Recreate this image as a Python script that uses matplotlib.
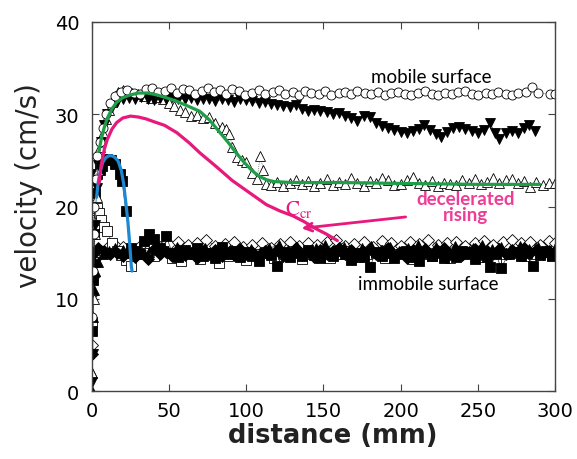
import numpy as np
import matplotlib as mpl
mpl.use('agg')
import matplotlib.pyplot as plt

# measured series, (distance mm, velocity cm/s)
mobile = [(0, 8), (0.5, 13), (1, 17), (1.5, 20), (2.5, 23), (3.5, 25.5), (5, 27), (7, 28.5), (9, 30),
          (12, 31.2), (15, 32), (19, 32.4), (23, 32.6), (27, 32.3), (31, 32.2), (35, 32.7), (39, 32.8),
          (43, 32.4), (47, 32.5), (51, 32.8), (55, 32.3), (59, 32.7), (63, 32.6), (67, 32.2), (71, 32.5),
          (75, 32.8), (79, 32.4), (83, 32.6), (87, 32.2), (91, 32.7), (95, 32.5), (99, 32.1), (104, 32.3),
          (108, 32.6), (112, 32.2), (117, 32.4), (121, 32.6), (125, 32.2), (130, 32.4), (134, 32.1),
          (138, 32.5), (142, 32.3), (147, 32.2), (151, 32.5), (155, 32.1), (160, 32.3), (164, 32.4),
          (168, 32.2), (172, 32.5), (177, 32.3), (181, 32.2), (185, 32.4), (190, 32.1), (194, 32.3),
          (198, 32.4), (203, 32.2), (207, 32.1), (211, 32.3), (216, 32.5), (220, 32.2), (224, 32.1),
          (229, 32.3), (233, 32.2), (237, 32.4), (242, 32.5), (246, 32.2), (250, 32.1), (255, 32.3),
          (259, 32.2), (263, 32.4), (268, 32.2), (272, 32.1), (276, 32.3), (281, 32.4), (285, 32.9),
          (289, 32.3), (297, 32.2), (300, 32.2)]

tri_down = [(0, 1), (0.5, 4), (1, 12), (2, 18), (3, 22), (4, 24.5), (6, 27), (8, 28.8), (10, 30), (13, 30.8),
            (16, 31.3), (20, 31.7), (24, 31.8), (28, 31.6), (32, 31.9), (36, 31.7), (40, 31.5), (44, 31.8),
            (48, 31.6), (52, 31.9), (56, 31.7), (60, 31.6), (64, 31.8), (68, 31.5), (72, 31.7), (76, 31.6),
            (80, 31.4), (84, 31.6), (88, 31.5), (92, 31.3), (96, 31.6), (100, 31.5), (104, 31.4), (108, 31.2),
            (112, 31.3), (116, 31.1), (120, 31.0), (124, 30.9), (128, 30.8), (132, 31.0), (136, 30.6),
            (140, 30.3), (144, 30.5), (148, 30.4), (152, 30.2), (156, 30.0), (160, 30.1), (164, 29.8),
            (168, 29.6), (172, 29.3), (176, 29.8), (180, 29.7), (184, 29.0), (188, 28.7), (192, 28.5),
            (196, 28.3), (200, 28.1), (204, 28.0), (208, 28.2), (212, 28.4), (215, 28.8), (219, 28.3),
            (223, 27.9), (226, 27.5), (230, 28.1), (234, 28.5), (238, 28.6), (242, 28.4), (246, 28.2),
            (250, 28.0), (254, 28.3), (258, 29.0), (261, 28.0), (264, 27.3), (268, 28.0), (272, 28.2),
            (276, 28.0), (280, 28.5), (283, 28.8), (287, 28.2)]

tri_up = [(0, 2), (1, 10), (2, 17), (3, 21), (4, 24), (5, 26.5), (7, 28), (9, 29.5), (11, 30.5), (13, 31.3),
          (15, 32), (17, 32.4), (20, 32.6), (23, 32.5), (26, 32.3), (30, 32.2), (34, 32.0), (38, 31.8),
          (42, 31.9), (46, 31.6), (50, 31.2), (53, 30.9), (57, 30.5), (60, 30.2), (64, 29.8), (68, 29.9),
          (72, 29.6), (76, 29.7), (80, 29.0), (84, 28.6), (87, 28.4), (89, 27.9), (91, 26.5), (94, 25.4),
          (97, 25.0), (100, 24.8), (104, 23.6), (107, 23.0), (109, 25.5), (111, 24.0), (113, 22.4),
          (116, 22.3), (120, 22.7), (124, 22.2), (128, 22.6), (132, 22.9), (136, 22.4), (140, 22.8),
          (144, 22.2), (148, 22.5), (152, 23.0), (156, 22.3), (160, 22.7), (164, 22.4), (168, 23.1),
          (172, 22.5), (176, 22.2), (180, 22.8), (184, 22.6), (188, 23.1), (192, 22.9), (196, 22.3),
          (200, 22.4), (204, 22.9), (208, 23.2), (212, 22.6), (216, 22.3), (220, 22.8), (224, 22.2),
          (228, 22.5), (232, 22.4), (236, 22.3), (240, 22.9), (244, 22.6), (248, 23.0), (252, 22.4),
          (256, 22.7), (260, 23.1), (264, 22.5), (268, 22.9), (272, 23.0), (276, 22.6), (280, 22.8),
          (284, 22.1), (288, 22.7), (292, 22.3), (296, 22.5), (300, 22.6)]

sq_filled = [(0, 6.5), (0.5, 12), (1, 17), (2, 21.5), (3.2, 23.5), (5, 24), (6.5, 24.4), (8, 25), (10, 25.1),
             (12.5, 25), (15, 24.6), (18, 23.5), (19.5, 22.8), (22, 19.5), (25, 15.5), (28, 15.2), (31, 14.8),
             (34, 16.3), (37, 17.0), (40, 16.5), (44, 15.5), (48, 16.8), (52, 15.0), (56, 14.5), (60, 15.3),
             (64, 14.8), (68, 15.5), (72, 14.6), (76, 15.0), (80, 14.4), (84, 15.6), (88, 14.8), (92, 15.2),
             (96, 14.5), (100, 15.1), (104, 14.6), (108, 14.1), (112, 15.0), (116, 14.7), (120, 13.6),
             (124, 15.1), (128, 14.5), (132, 15.0), (136, 14.6), (140, 15.3), (144, 14.7), (148, 14.4),
             (152, 15.0), (156, 14.6), (160, 15.2), (164, 14.8), (168, 14.2), (172, 15.0), (176, 14.5),
             (180, 13.4), (184, 15.1), (188, 14.6), (192, 15.0), (196, 14.4), (200, 14.9), (204, 15.2),
             (208, 14.5), (212, 14.1), (216, 15.0), (220, 14.6), (224, 15.1), (228, 14.4), (232, 14.9),
             (236, 14.5), (240, 15.2), (244, 14.8), (248, 14.3), (252, 15.0), (256, 14.5), (258, 13.4),
             (262, 14.8), (265, 13.3), (270, 14.9), (274, 15.1), (278, 14.6), (282, 15.0), (286, 13.5),
             (290, 14.7), (294, 15.2), (298, 14.6)]

sq_open = [(0, 7.5), (1, 14), (2, 18.5), (3, 19.8), (4.5, 19.3), (6, 18.5), (8, 17.8), (10, 17.3), (13, 16),
           (16, 15.2), (19, 14.7), (22, 14.2), (25, 13.6), (29, 14.8), (34, 15.0), (40, 14.6), (46, 15.2),
           (52, 14.4), (58, 14.1), (64, 15.0), (70, 14.3), (76, 14.8), (82, 13.9), (88, 14.6), (94, 15.0),
           (100, 14.2), (106, 14.8), (112, 15.1), (118, 14.4), (124, 14.9), (130, 15.2), (136, 14.3),
           (142, 14.9), (148, 15.0), (154, 14.4), (160, 14.8), (166, 15.2), (172, 14.5), (178, 14.9),
           (184, 15.0), (190, 14.4), (196, 14.8), (202, 15.1), (208, 14.3), (214, 14.9), (220, 14.6),
           (226, 15.0), (232, 14.4), (238, 14.8), (244, 15.1), (250, 14.5), (256, 14.9), (262, 14.3),
           (268, 14.9), (274, 15.0), (280, 14.6), (286, 14.9), (292, 15.1), (298, 14.7)]

dia_open = [(0, 5), (0, 10.5), (1, 12.5), (3, 14.5), (6, 15.2), (10, 15.5), (15, 15.8), (20, 15.6), (26, 15.2),
            (32, 15.8), (38, 16.0), (44, 15.6), (50, 15.9), (56, 16.2), (62, 15.8), (68, 16.0), (74, 16.4),
            (80, 15.7), (86, 15.9), (92, 16.1), (98, 15.6), (104, 15.8), (110, 16.0), (116, 15.5), (122, 15.9),
            (128, 16.2), (134, 15.7), (140, 16.0), (146, 15.8), (152, 16.2), (158, 16.4), (164, 15.7),
            (170, 15.9), (176, 16.1), (182, 15.6), (188, 16.3), (194, 16.0), (200, 15.7), (206, 16.2),
            (212, 15.9), (218, 16.4), (224, 15.8), (230, 16.0), (236, 16.2), (242, 15.7), (248, 16.0),
            (254, 16.3), (260, 15.8), (266, 16.1), (272, 16.4), (278, 16.0), (284, 16.2), (290, 15.8),
            (296, 16.3), (300, 16.0)]

dia_filled = [(0, 4), (0, 12), (0.5, 14), (1.5, 15), (4, 15.5), (8, 15.2), (12, 14.8), (16, 15.0), (20, 14.6),
              (24, 15.2), (28, 14.5), (32, 15.0), (36, 14.3), (40, 15.4), (44, 14.8), (48, 15.1), (52, 14.6),
              (56, 15.3), (60, 14.7), (64, 15.0), (68, 14.4), (72, 15.2), (76, 14.8), (80, 15.3), (84, 14.6),
              (88, 15.0), (92, 14.7), (96, 15.4), (100, 14.9), (104, 15.1), (108, 14.5), (112, 15.2),
              (116, 14.8), (120, 15.3), (124, 14.6), (128, 15.0), (132, 15.5), (136, 14.7), (140, 15.1),
              (144, 14.5), (148, 15.3), (152, 14.8), (156, 15.2), (160, 15.5), (164, 14.9), (168, 15.3),
              (172, 14.6), (176, 15.1), (180, 15.4), (184, 14.8), (188, 15.2), (192, 15.5), (196, 14.7),
              (200, 15.1), (204, 14.4), (208, 15.3), (212, 15.0), (216, 15.4), (220, 14.8), (224, 15.2),
              (228, 15.5), (232, 14.9), (236, 15.3), (240, 14.7), (244, 15.1), (248, 15.4), (252, 14.8),
              (256, 15.2), (260, 15.0), (264, 15.4), (268, 14.8), (272, 15.3), (276, 15.0), (280, 15.5),
              (284, 15.0), (288, 15.3), (292, 14.9), (296, 15.2), (300, 15.0)]

tri_filled = [(0, 0), (0, 2), (0.5, 8), (1, 11), (2, 13), (4, 14), (7, 14.8), (11, 15.2), (15, 15.5), (20, 15.3),
              (25, 15.0), (31, 15.4), (37, 15.1), (43, 15.5), (49, 15.2), (55, 15.6), (61, 15.3), (67, 15.1),
              (73, 15.5), (79, 15.2), (85, 15.6), (91, 15.3), (97, 15.0), (103, 15.4), (109, 15.1), (115, 15.5),
              (121, 15.8), (127, 15.3), (133, 15.6), (139, 15.2), (145, 15.5), (151, 15.8), (157, 15.3),
              (163, 15.6), (169, 15.2), (175, 15.5), (181, 15.7), (187, 15.3), (193, 15.6), (199, 15.2),
              (205, 15.5), (211, 15.8), (217, 15.3), (223, 15.6), (229, 15.4), (235, 15.7), (241, 15.2),
              (247, 15.5), (253, 15.8), (259, 15.4), (265, 15.6), (271, 15.3), (277, 15.7), (283, 15.4),
              (289, 15.6), (295, 15.3), (300, 15.5)]

# hand-drawn guide curves
blue_curve = [(3, 21), (4, 22.6), (5.5, 23.9), (7, 24.8), (9, 25.3), (11, 25.5), (13, 25.5), (15, 25.3),
              (17, 24.9), (19, 23.9), (20.5, 22.5), (22, 20.3), (23.3, 18.3), (24.5, 15.8), (25.5, 13.5), (26, 13.0)]
pink_curve = [(4.5, 22.5), (6, 24.5), (8, 26.2), (10, 27.3), (13, 28.4), (16, 29.1), (20, 29.6), (25, 29.8),
              (30, 29.7), (35, 29.5), (40, 29.2), (47, 28.8), (55, 28.0), (63, 26.9), (70, 25.8), (80, 24.4),
              (91, 22.8), (102, 21.5), (113, 20.2), (122, 19.5), (130, 19.0), (137, 18.4), (145, 17.6),
              (152, 17.0), (159, 16.3)]
green_curve = [(4.5, 26), (6, 27.3), (8, 28.6), (10, 29.6), (13, 30.6), (16, 31.3), (20, 31.8), (25, 32.1),
               (30, 32.3), (36, 32.3), (42, 32.1), (48, 31.8), (55, 31.4), (62, 30.9), (70, 30.3), (76, 29.4),
               (82, 28.2), (88, 27.0), (93, 25.9), (98, 24.9), (103, 24.0), (108, 23.3), (113, 22.9),
               (118, 22.7), (130, 22.6), (160, 22.6), (200, 22.5), (250, 22.4), (290, 22.4)]

PINK = '#e8197c'
GREEN = '#1f9e48'
BLUE = '#1e88d0'

fig = plt.figure(figsize=(5.77, 4.6), dpi=100)
ax = fig.add_axes([0.1594, 0.1478, 0.8025, 0.8022])

def draw(pts, marker, filled, ls, ms=6.5):
    x = [p[0] for p in pts]
    y = [p[1] for p in pts]
    ax.plot(x, y, color='#333333', lw=0.5, ls=ls, marker=marker, ms=ms,
            mfc='black' if filled else 'white', mec='black', mew=0.6, zorder=2)

draw(dia_open, 'D', False, '-', 6)
draw(sq_open, 's', False, '-')
draw(tri_filled, '^', True, '-')
draw(dia_filled, 'D', True, '-', 6)
draw(sq_filled, 's', True, '-')
draw(tri_up, '^', False, ':')
draw(tri_down, 'v', True, '-')
draw(mobile, 'o', False, ':')

for pts, c in [(blue_curve, BLUE), (pink_curve, PINK), (green_curve, GREEN)]:
    ax.plot([p[0] for p in pts], [p[1] for p in pts], color=c, lw=2.3,
            solid_capstyle='round', solid_joinstyle='round', zorder=4)

ax.set_xlim(0, 300)
ax.set_ylim(0, 40)
ax.set_xticks([0, 50, 100, 150, 200, 250, 300])
ax.set_yticks([0, 10, 20, 30, 40])
ax.tick_params(direction='in', top=True, right=True, length=5, width=0.8,
               labelsize=14, color='#444444', pad=7)
ax.tick_params(axis='y', pad=9)
for s in ax.spines.values():
    s.set_color('#444444')
    s.set_linewidth(1.0)

ax.set_xlabel('distance (mm)', fontsize=18.5, fontweight='bold', color='#222222')
ax.set_ylabel('velocity (cm/s)', fontsize=20, color='#222222')
ax.xaxis.set_label_coords(0.52, -0.085)
ax.yaxis.set_label_coords(-0.105, 0.56)

ax.text(220, 34.1, 'mobile surface', fontsize=13.5, family='Lato', ha='center', va='center', zorder=5)
ax.text(218, 11.6, 'immobile surface', fontsize=13.5, family='Lato', ha='center', va='center', zorder=5)
ax.text(242, 20.0, 'decelerated\nrising', fontsize=13.5, family='Lato', fontweight='bold',
        color='#ef3c96', ha='center', va='center', linespacing=0.9, zorder=5)
ax.text(134, 19.8, r'$\mathrm{C_{cr}}$', fontsize=15, color=PINK, ha='center', va='center', zorder=5,
        math_fontfamily='stix')
ax.annotate('', xy=(134, 17.6), xytext=(205, 18.9),
            arrowprops=dict(arrowstyle='->', color=PINK, lw=2, mutation_scale=14), zorder=5)

fig.savefig('out.png', dpi=100)
